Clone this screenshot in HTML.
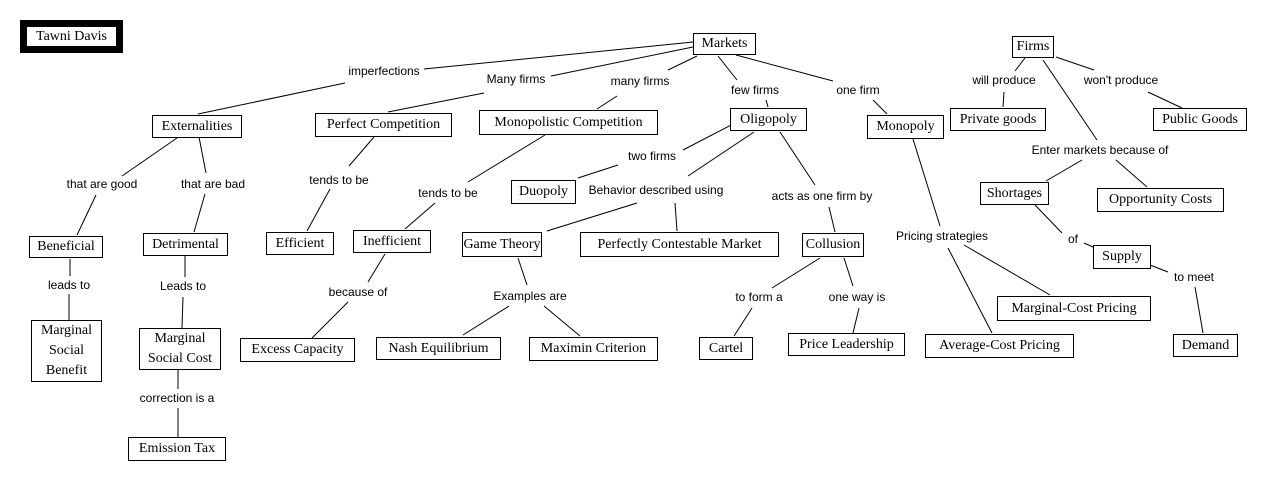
<!DOCTYPE html>
<html><head><meta charset="utf-8"><style>
body{margin:0;width:1269px;height:500px;background:#fff;position:relative;overflow:hidden}
.b{position:absolute;border:1px solid #000;background:#fff;box-sizing:border-box;display:flex;align-items:center;justify-content:center;text-align:center;font-family:"Liberation Serif",serif;font-size:14px;line-height:20px;white-space:nowrap;color:#000}
.l{position:absolute;font-family:"Liberation Sans",sans-serif;font-size:12px;transform:translate(-50%,-50%);white-space:nowrap;color:#000}
svg{position:absolute;left:0;top:0}
</style></head><body>
<svg width="1269" height="500" stroke="#000" stroke-width="1">
<line x1="693" y1="42" x2="424" y2="69"/>
<line x1="345" y1="83" x2="198" y2="114"/>
<line x1="693" y1="47" x2="551" y2="76"/>
<line x1="484" y1="93" x2="388" y2="112"/>
<line x1="697" y1="56" x2="668" y2="70"/>
<line x1="617" y1="96" x2="597" y2="109"/>
<line x1="718" y1="56" x2="737" y2="80"/>
<line x1="766" y1="100" x2="768" y2="107"/>
<line x1="736" y1="55" x2="833" y2="81"/>
<line x1="873" y1="100" x2="887" y2="114"/>
<line x1="1025" y1="58" x2="1015" y2="71"/>
<line x1="1004" y1="92" x2="1003" y2="107"/>
<line x1="1056" y1="57" x2="1094" y2="70"/>
<line x1="1148" y1="92" x2="1182" y2="108"/>
<line x1="1043" y1="60" x2="1097" y2="140"/>
<line x1="1082" y1="160" x2="1046" y2="181"/>
<line x1="1116" y1="160" x2="1147" y2="187"/>
<line x1="177" y1="138" x2="122" y2="176"/>
<line x1="96" y1="195" x2="77" y2="235"/>
<line x1="199" y1="137" x2="206" y2="173"/>
<line x1="205" y1="194" x2="194" y2="232"/>
<line x1="374" y1="137" x2="349" y2="166"/>
<line x1="330" y1="189" x2="307" y2="231"/>
<line x1="545" y1="135" x2="468" y2="182"/>
<line x1="435" y1="203" x2="405" y2="229"/>
<line x1="735" y1="123" x2="683" y2="150"/>
<line x1="618" y1="165" x2="578" y2="178"/>
<line x1="754" y1="132" x2="688" y2="176"/>
<line x1="637" y1="203" x2="547" y2="231"/>
<line x1="675" y1="203" x2="677" y2="231"/>
<line x1="780" y1="132" x2="815" y2="185"/>
<line x1="829" y1="207" x2="835" y2="232"/>
<line x1="913" y1="139" x2="940" y2="226"/>
<line x1="948" y1="248" x2="992" y2="333"/>
<line x1="964" y1="245" x2="1050" y2="295"/>
<line x1="1035" y1="205" x2="1062" y2="233"/>
<line x1="1084" y1="243" x2="1093" y2="247"/>
<line x1="1150" y1="265" x2="1168" y2="272"/>
<line x1="1195" y1="287" x2="1203" y2="333"/>
<line x1="70" y1="259" x2="70" y2="276"/>
<line x1="69" y1="294" x2="69" y2="320"/>
<line x1="185" y1="256" x2="185" y2="277"/>
<line x1="183" y1="297" x2="182" y2="328"/>
<line x1="178" y1="370" x2="178" y2="389"/>
<line x1="178" y1="408" x2="178" y2="437"/>
<line x1="385" y1="254" x2="368" y2="282"/>
<line x1="348" y1="302" x2="312" y2="338"/>
<line x1="518" y1="258" x2="527" y2="285"/>
<line x1="509" y1="306" x2="463" y2="335"/>
<line x1="544" y1="306" x2="580" y2="336"/>
<line x1="820" y1="258" x2="772" y2="288"/>
<line x1="752" y1="308" x2="734" y2="336"/>
<line x1="844" y1="258" x2="853" y2="286"/>
<line x1="859" y1="308" x2="853" y2="333"/>
</svg>

<div style="position:absolute;left:20px;top:20px;width:103px;height:33px;background:#000"></div>
<div class="b" style="left:26px;top:26px;width:91px;height:21px;">Tawni Davis</div>

<div class="b" style="left:693px;top:33px;width:63px;height:22px">Markets</div>
<div class="b" style="left:152px;top:115px;width:90px;height:23px">Externalities</div>
<div class="b" style="left:315px;top:113px;width:137px;height:24px">Perfect Competition</div>
<div class="b" style="left:479px;top:110px;width:179px;height:25px">Monopolistic Competition</div>
<div class="b" style="left:730px;top:108px;width:77px;height:23px">Oligopoly</div>
<div class="b" style="left:867px;top:115px;width:77px;height:24px">Monopoly</div>
<div class="b" style="left:1012px;top:36px;width:42px;height:22px">Firms</div>
<div class="b" style="left:950px;top:108px;width:96px;height:23px">Private goods</div>
<div class="b" style="left:1153px;top:108px;width:94px;height:23px">Public Goods</div>
<div class="b" style="left:511px;top:180px;width:65px;height:24px">Duopoly</div>
<div class="b" style="left:980px;top:182px;width:69px;height:23px">Shortages</div>
<div class="b" style="left:1097px;top:188px;width:127px;height:24px">Opportunity Costs</div>
<div class="b" style="left:29px;top:236px;width:74px;height:22px">Beneficial</div>
<div class="b" style="left:143px;top:233px;width:85px;height:23px">Detrimental</div>
<div class="b" style="left:266px;top:232px;width:68px;height:23px">Efficient</div>
<div class="b" style="left:353px;top:230px;width:78px;height:23px">Inefficient</div>
<div class="b" style="left:462px;top:232px;width:80px;height:25px">Game Theory</div>
<div class="b" style="left:580px;top:232px;width:199px;height:25px">Perfectly Contestable Market</div>
<div class="b" style="left:802px;top:233px;width:62px;height:24px">Collusion</div>
<div class="b" style="left:1093px;top:245px;width:58px;height:24px">Supply</div>
<div class="b" style="left:31px;top:320px;width:71px;height:62px;white-space:normal;line-height:20px">Marginal<br>Social<br>Benefit</div>
<div class="b" style="left:139px;top:328px;width:82px;height:42px;line-height:20px">Marginal<br>Social Cost</div>
<div class="b" style="left:240px;top:338px;width:115px;height:24px">Excess Capacity</div>
<div class="b" style="left:376px;top:337px;width:125px;height:23px">Nash Equilibrium</div>
<div class="b" style="left:529px;top:337px;width:129px;height:24px">Maximin Criterion</div>
<div class="b" style="left:699px;top:337px;width:54px;height:23px">Cartel</div>
<div class="b" style="left:788px;top:333px;width:117px;height:23px">Price Leadership</div>
<div class="b" style="left:925px;top:334px;width:149px;height:24px">Average-Cost Pricing</div>
<div class="b" style="left:997px;top:296px;width:154px;height:25px">Marginal-Cost Pricing</div>
<div class="b" style="left:1173px;top:334px;width:65px;height:23px">Demand</div>
<div class="b" style="left:128px;top:437px;width:98px;height:24px">Emission Tax</div>

<div class="l" style="left:384px;top:71px">imperfections</div>
<div class="l" style="left:516px;top:79px">Many firms</div>
<div class="l" style="left:640px;top:81px">many firms</div>
<div class="l" style="left:755px;top:90px">few firms</div>
<div class="l" style="left:858px;top:90px">one firm</div>
<div class="l" style="left:1004px;top:80px">will produce</div>
<div class="l" style="left:1121px;top:80px">won't produce</div>
<div class="l" style="left:102px;top:184px">that are good</div>
<div class="l" style="left:213px;top:184px">that are bad</div>
<div class="l" style="left:339px;top:180px">tends to be</div>
<div class="l" style="left:448px;top:193px">tends to be</div>
<div class="l" style="left:652px;top:156px">two firms</div>
<div class="l" style="left:656px;top:190px">Behavior described using</div>
<div class="l" style="left:822px;top:196px">acts as one firm by</div>
<div class="l" style="left:1100px;top:150px">Enter markets because of</div>
<div class="l" style="left:1073px;top:239px">of</div>
<div class="l" style="left:1194px;top:277px">to meet</div>
<div class="l" style="left:942px;top:236px">Pricing strategies</div>
<div class="l" style="left:69px;top:285px">leads to</div>
<div class="l" style="left:183px;top:286px">Leads to</div>
<div class="l" style="left:358px;top:292px">because of</div>
<div class="l" style="left:530px;top:296px">Examples are</div>
<div class="l" style="left:759px;top:297px">to form a</div>
<div class="l" style="left:857px;top:297px">one way is</div>
<div class="l" style="left:177px;top:398px">correction is a</div>
</body></html>
